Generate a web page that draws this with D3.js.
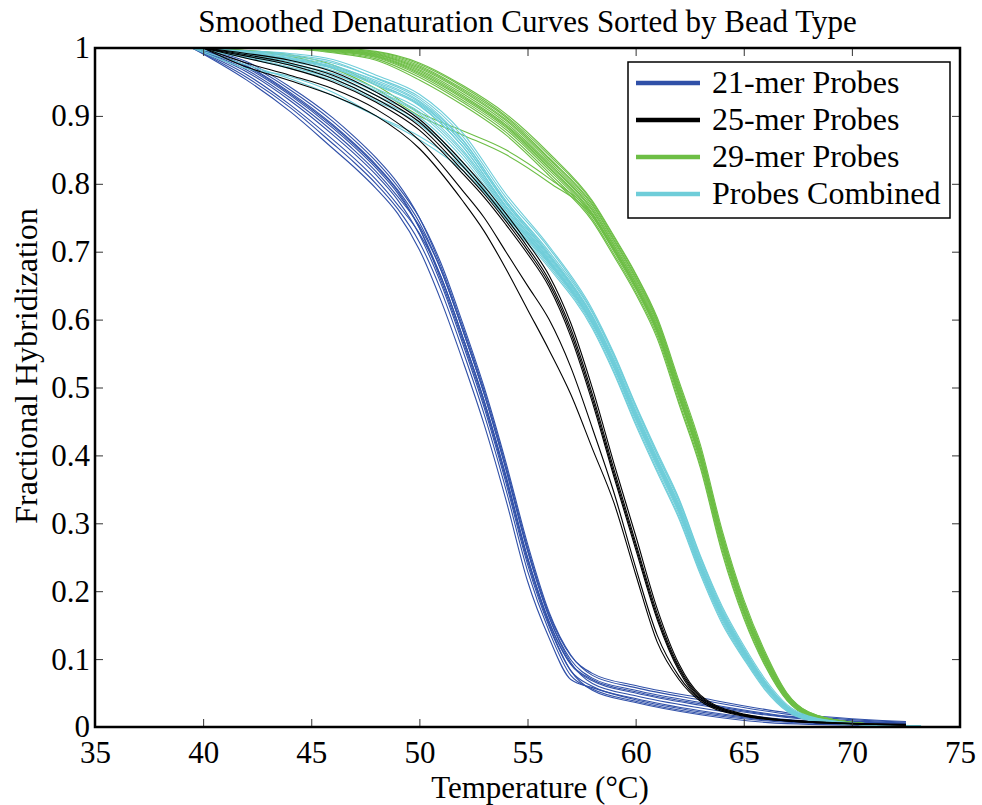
<!DOCTYPE html>
<html lang="en">
<head>
    <meta charset="UTF-8">
    <title>Smoothed Denaturation Curves Sorted by Bead Type</title>
    <script src="https://d3js.org/d3.v7.min.js"></script>
    <style>
        body { margin: 0; background: #fff; }
        text { font-family: "Liberation Serif", "Times New Roman", serif; fill: #000; }
    </style>
</head>
<body>
    <svg id="denat_chart" width="982" height="805"></svg>
    <script>
        // temperature grids (deg C) and fractional hybridization
        const temps21 = [39.5, 42, 44, 46, 47, 48, 49, 50, 51, 52, 53, 54, 55, 56, 57, 58, 60, 63, 67, 72.5];
        const curves21 = [
            [1, .977, .939, .892, .864, .833, .796, .75, .683, .595, .5, .39, .27, .169, .106, .076, .058, .04, .019, .007],
            [1, .974, .935, .887, .859, .828, .791, .743, .673, .585, .49, .38, .26, .162, .099, .072, .054, .036, .016, .006],
            [1, .971, .931, .882, .854, .823, .786, .735, .663, .575, .48, .37, .25, .155, .092, .068, .05, .032, .014, .005],
            [1, .968, .927, .877, .849, .818, .781, .738, .673, .585, .49, .38, .26, .162, .095, .064, .046, .028, .011, .004],
            [1, .965, .923, .872, .844, .813, .776, .725, .653, .565, .47, .36, .24, .148, .083, .06, .042, .024, .009, .003],
            [1, .961, .917, .865, .837, .806, .769, .727, .663, .575, .48, .37, .25, .155, .093, .07, .052, .034, .015, .005],
            [1, .957, .913, .859, .831, .8, .763, .714, .643, .555, .46, .35, .23, .141, .076, .056, .038, .02, .007, .002],
            [1, .973, .933, .885, .857, .826, .789, .735, .658, .57, .475, .365, .245, .151, .083, .054, .036, .018, .005, .002],
            [1, .953, .907, .852, .824, .793, .756, .703, .628, .54, .445, .335, .215, .131, .07, .058, .04, .022, .008, .003],
            [1, .98, .943, .897, .869, .838, .801, .75, .678, .59, .495, .385, .265, .166, .105, .079, .061, .043, .021, .008]
        ];

        const temps25 = [40, 42, 44, 46, 48, 50, 52, 53, 54, 55, 56, 57, 58, 59, 60, 61, 62, 63, 65, 68, 72.5];
        const curves25 = [
            [1, .972, .952, .93, .9, .852, .775, .73, .675, .615, .555, .49, .41, .33, .225, .125, .07, .038, .016, .007, .003],
            [1, .978, .96, .94, .91, .864, .79, .75, .7, .65, .6, .53, .44, .345, .235, .135, .075, .04, .017, .007, .003],
            [1, .985, .97, .95, .92, .879, .815, .78, .74, .697, .648, .575, .478, .368, .262, .158, .083, .041, .017, .007, .003],
            [1, .988, .975, .955, .925, .885, .82, .785, .745, .702, .653, .581, .484, .373, .267, .162, .086, .043, .018, .008, .003],
            [1, .99, .978, .96, .93, .891, .826, .79, .75, .707, .658, .587, .49, .379, .272, .167, .089, .045, .018, .008, .003],
            [1, .992, .982, .965, .935, .895, .832, .796, .756, .713, .665, .595, .499, .388, .282, .174, .093, .047, .019, .008, .004]
        ];

        const temps29 = [40, 44, 46, 48, 50, 52, 54, 56, 58, 59, 60, 61, 62, 63, 64, 65, 66, 67, 68, 70, 72.5];
        const curves29 = [
            [1, 1, 1, .995, .978, .945, .903, .845, .775, .723, .668, .603, .51, .415, .29, .188, .11, .05, .022, .007, .002],
            [1, 1, .999, .993, .974, .94, .898, .838, .77, .718, .663, .598, .503, .408, .283, .182, .105, .048, .021, .007, .002],
            [1, 1, .998, .991, .97, .936, .893, .833, .765, .713, .658, .593, .498, .403, .278, .178, .102, .046, .02, .006, .002],
            [1, 1, .997, .99, .968, .933, .89, .83, .762, .71, .655, .59, .495, .4, .275, .175, .1, .045, .02, .006, .002],
            [1, 1, .996, .988, .964, .928, .885, .825, .757, .705, .65, .585, .49, .395, .27, .171, .097, .043, .019, .006, .002],
            [1, 1, .995, .986, .96, .923, .88, .82, .752, .7, .645, .58, .485, .39, .265, .167, .094, .042, .018, .006, .002],
            [1, .999, .994, .984, .957, .92, .876, .816, .748, .696, .641, .576, .48, .385, .26, .163, .091, .04, .017, .005, .002],
            [1, 1, .998, .992, .972, .938, .895, .836, .768, .716, .661, .596, .501, .406, .282, .181, .104, .047, .021, .007, .002],
            [1, 1, .997, .989, .966, .93, .887, .828, .76, .708, .653, .588, .493, .398, .273, .173, .099, .044, .019, .006, .002],
            [1, 1, .999, .994, .976, .943, .9, .842, .773, .721, .666, .6, .506, .41, .285, .184, .107, .049, .022, .007, .002],
            [1, .999, .993, .982, .953, .916, .872, .812, .745, .693, .638, .572, .476, .381, .256, .16, .089, .039, .016, .005, .001],
            [1, .99, .975, .945, .905, .878, .85, .808, .755, .705, .65, .585, .49, .395, .27, .171, .097, .043, .019, .006, .002],
            [1, .988, .97, .94, .9, .872, .843, .802, .752, .702, .648, .582, .487, .392, .268, .169, .095, .042, .018, .006, .002],
            [1, 1, .996, .987, .962, .926, .883, .823, .755, .703, .648, .583, .488, .393, .268, .169, .096, .043, .019, .006, .002]
        ];

        const tempsAll = [39.5, 42, 44, 46, 48, 50, 52, 54, 56, 58, 59, 60, 61, 62, 63, 64, 65, 66, 67, 68, 70, 73.2];
        const curvesAll = [
            [1, .995, .99, .98, .955, .925, .865, .775, .7, .61, .545, .47, .40, .332, .247, .172, .115, .066, .03, .014, .005, .001],
            [1, .993, .986, .975, .95, .92, .86, .772, .695, .605, .54, .465, .395, .327, .242, .168, .112, .064, .029, .013, .005, .001],
            [1, .992, .983, .971, .945, .915, .855, .768, .692, .602, .537, .462, .392, .324, .239, .166, .111, .063, .028, .013, .005, .001],
            [1, .99, .98, .967, .94, .91, .85, .765, .69, .6, .535, .46, .39, .322, .237, .165, .11, .062, .028, .013, .005, .001],
            [1, .989, .977, .962, .935, .903, .843, .76, .685, .595, .53, .455, .385, .317, .232, .16, .106, .059, .026, .012, .004, .001],
            [1, .988, .975, .958, .93, .898, .838, .757, .683, .593, .528, .452, .382, .314, .23, .158, .104, .058, .025, .011, .004, .001],
            [1, .994, .988, .978, .956, .928, .87, .78, .705, .612, .548, .473, .402, .335, .25, .175, .117, .067, .031, .015, .006, .001],
            [1, .986, .972, .955, .925, .892, .832, .752, .679, .59, .524, .448, .378, .31, .227, .155, .102, .056, .024, .011, .004, .001],
            [1, .991, .982, .97, .946, .918, .86, .772, .694, .603, .538, .463, .393, .327, .242, .17, .114, .065, .03, .014, .005, .001],
            [1, .993, .985, .972, .948, .916, .855, .766, .688, .598, .532, .457, .387, .319, .234, .162, .108, .06, .027, .012, .004, .001],
            [1, .987, .976, .962, .937, .906, .847, .762, .687, .597, .532, .457, .388, .32, .235, .163, .109, .061, .027, .012, .005, .001],
            [1, .975, .955, .93, .9, .87, .825, .755, .685, .597, .533, .458, .389, .321, .236, .164, .109, .061, .027, .012, .005, .001],
            [1, .97, .958, .935, .9, .865, .82, .752, .682, .594, .53, .455, .386, .318, .234, .162, .107, .06, .026, .012, .004, .001],
            [1, .996, .992, .983, .96, .932, .875, .785, .708, .615, .55, .475, .405, .337, .252, .178, .12, .07, .033, .016, .006, .002],
            [1, .985, .97, .952, .922, .888, .828, .748, .676, .587, .521, .445, .375, .307, .224, .152, .1, .054, .023, .01, .004, .001],
            [1, .992, .984, .973, .952, .922, .864, .775, .697, .606, .541, .466, .396, .328, .243, .169, .113, .064, .029, .013, .005, .001]
        ];

        const legendLabels = ["21-mer Probes", "25-mer Probes", "29-mer Probes", "Probes Combined"];
        const xTicks = [35, 40, 45, 50, 55, 60, 65, 70, 75];
        const yTicks = [0, 0.1, 0.2, 0.3, 0.4, 0.5, 0.6, 0.7, 0.8, 0.9, 1];

        const groups = [
            { name: legendLabels[0], temps: temps21, curves: curves21, color: "#3050a8" },
            { name: legendLabels[1], temps: temps25, curves: curves25, color: "#000000" },
            { name: legendLabels[2], temps: temps29, curves: curves29, color: "#6dbe45" },
            { name: legendLabels[3], temps: tempsAll, curves: curvesAll, color: "#6fcdd9" }
        ];
        // drawing order: blue, green, cyan, then black on top
        const drawOrder = [0, 2, 3, 1];

        const svg = d3.select("#denat_chart");
        const margin = { top: 48, right: 22, bottom: 78, left: 95 };
        const width = +svg.attr("width") - margin.left - margin.right;
        const height = +svg.attr("height") - margin.top - margin.bottom;

        const g = svg.append("g")
            .attr("transform", `translate(${margin.left},${margin.top})`);

        const x = d3.scaleLinear().domain([35, 75]).range([0, width]);
        const y = d3.scaleLinear().domain([0, 1]).range([height, 0]);

        const line = d3.line()
            .x(d => x(d[0]))
            .y(d => y(d[1]))
            .curve(d3.curveMonotoneX);

        drawOrder.forEach(i => {
            const grp = groups[i];
            grp.curves.forEach(vals => {
                g.append("path")
                    .datum(grp.temps.map((t, k) => [t, vals[k]]))
                    .attr("d", line)
                    .style("fill", "none")
                    .style("stroke", grp.color)
                    .style("stroke-width", 1.1);
            });
        });

        // axes, ticks pointing inward like matlab
        const fmtY = d => d === 0 ? "0" : d === 1 ? "1" : d3.format(".1f")(d);
        const styleAxis = sel => {
            sel.select(".domain").remove();
            sel.selectAll(".tick line").attr("stroke", "#333");
            sel.selectAll("text").style("font-size", "31px")
                .style("font-family", "'Liberation Serif', 'Times New Roman', serif");
        };

        g.append("g")
            .attr("transform", `translate(0,${height})`)
            .call(d3.axisBottom(x).tickValues(xTicks).tickSize(-8).tickPadding(14).tickFormat(d3.format("d")))
            .call(styleAxis);
        g.append("g")
            .call(d3.axisTop(x).tickValues(xTicks).tickSize(-8).tickFormat(""))
            .call(styleAxis);
        g.append("g")
            .call(d3.axisLeft(y).tickValues(yTicks).tickSize(-8).tickPadding(5).tickFormat(fmtY))
            .call(styleAxis);
        g.append("g")
            .attr("transform", `translate(${width},0)`)
            .call(d3.axisRight(y).tickValues(yTicks).tickSize(-8).tickFormat(""))
            .call(styleAxis);

        g.append("rect")
            .attr("width", width)
            .attr("height", height)
            .style("fill", "none")
            .style("stroke", "#000")
            .style("stroke-width", 2.5);

        // title and labels
        svg.append("text")
            .attr("x", margin.left + width / 2)
            .attr("y", 32)
            .attr("text-anchor", "middle")
            .style("font-size", "31px")
            .text("Smoothed Denaturation Curves Sorted by Bead Type");

        svg.append("text")
            .attr("x", 540)
            .attr("y", 798)
            .attr("text-anchor", "middle")
            .style("font-size", "31px")
            .text("Temperature (\u00B0C)");

        svg.append("text")
            .attr("transform", "translate(37,366) rotate(-90)")
            .attr("text-anchor", "middle")
            .style("font-size", "32px")
            .text("Fractional Hybridization");

        // legend
        const legend = svg.append("g").attr("transform", "translate(628,62)");
        legend.append("rect")
            .attr("width", 322)
            .attr("height", 156)
            .style("fill", "#fff")
            .style("stroke", "#000")
            .style("stroke-width", 1.5);

        groups.forEach((grp, i) => {
            const ly = 21 + i * 37;
            legend.append("line")
                .attr("x1", 8).attr("x2", 72)
                .attr("y1", ly).attr("y2", ly)
                .style("stroke", grp.color)
                .style("stroke-width", 4.5);
            legend.append("text")
                .attr("x", 84)
                .attr("y", ly)
                .attr("dy", "0.3em")
                .style("font-size", "32px")
                .text(grp.name);
        });
    </script>
</body>
</html>
